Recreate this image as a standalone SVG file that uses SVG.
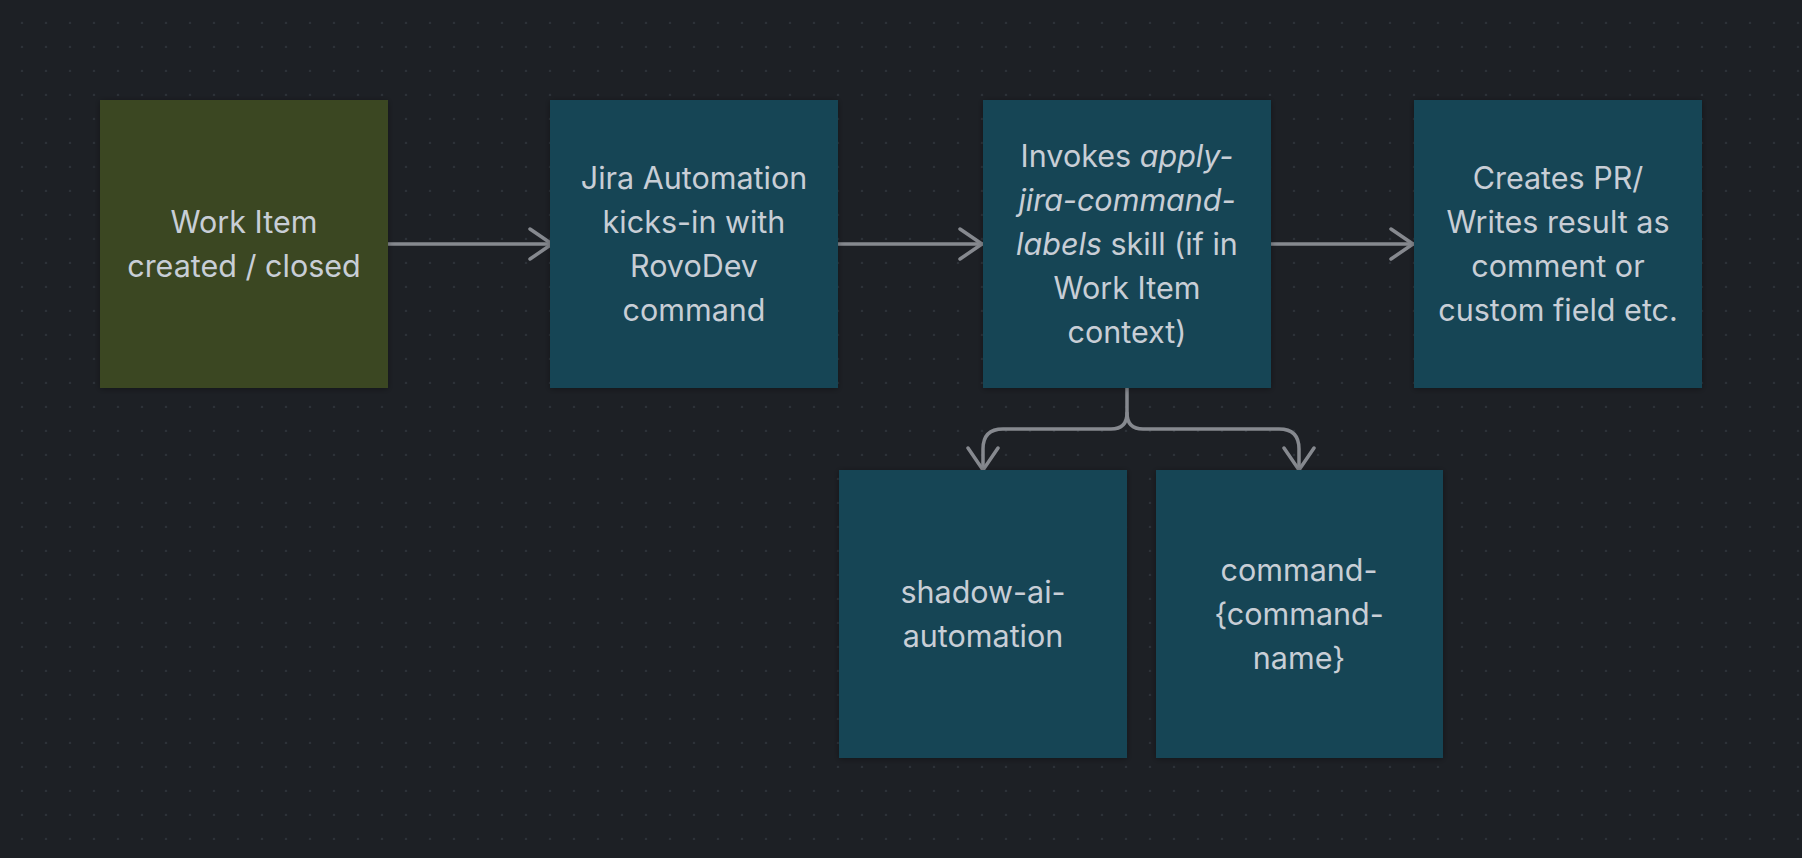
<svg xmlns="http://www.w3.org/2000/svg" width="1802" height="858" viewBox="0 0 1802 858">
<defs>
<pattern id="dots" x="0" y="0" width="24" height="24" patternUnits="userSpaceOnUse">
<circle cx="22" cy="23" r="1.2" fill="#2d3238"/>
</pattern>
<marker id="arr" viewBox="-26 -17 30 34" markerWidth="30" markerHeight="34" refX="0" refY="0" orient="auto" markerUnits="userSpaceOnUse">
<path d="M-22,-15 L0,0 L-22,15" fill="none" stroke="#86898f" stroke-width="3.5" stroke-linecap="round" stroke-linejoin="round"/>
</marker>
<filter id="sh" x="-10%" y="-10%" width="120%" height="120%">
<feDropShadow dx="0" dy="1" stdDeviation="3" flood-color="#000" flood-opacity="0.35"/>
</filter>
</defs>
<style>
.box{stroke:none;filter:url(#sh)}
.teal{fill:#164555}
.green{fill:#3a4721}
.t{font-family:Inter,"Noto Sans",sans-serif;font-size:30.5px;fill:#c8ced6;text-anchor:middle}
.i{font-style:italic}
.c{fill:none;stroke:#86898f;stroke-width:3.5;stroke-linecap:round}
</style>
<rect width="1802" height="858" fill="#1d2025"/>
<rect width="1802" height="858" fill="url(#dots)"/>

<g id="connectors">
<path class="c" d="M388,244 L552,244" marker-end="url(#arr)"/>
<path class="c" d="M838,244 L982,244" marker-end="url(#arr)"/>
<path class="c" d="M1271,244 L1413,244" marker-end="url(#arr)"/>
<path class="c" d="M1127,388 L1127,413 Q1127,429 1111,429 L1003,429 Q983,429 983,449 L983,470" marker-end="url(#arr)"/>
<path class="c" d="M1127,413 Q1127,429 1143,429 L1279,429 Q1299,429 1299,449 L1299,470" marker-end="url(#arr)"/>
</g>

<g id="node-work-item">
<rect class="box green" x="100" y="100" width="288" height="288"/>
<text class="t" x="244" y="233">Work Item</text>
<text class="t" x="244" y="277">created / closed</text>
</g>

<g id="node-jira-automation">
<rect class="box teal" x="550" y="100" width="288" height="288"/>
<text class="t" x="694" y="189">Jira Automation</text>
<text class="t" x="694" y="233">kicks-in with</text>
<text class="t" x="694" y="277">RovoDev</text>
<text class="t" x="694" y="321">command</text>
</g>

<g id="node-invokes-skill">
<rect class="box teal" x="983" y="100" width="288" height="288"/>
<text class="t" x="1127" y="167">Invokes <tspan class="i">apply-</tspan></text>
<text class="t i" x="1127" y="211">jira-command-</text>
<text class="t" x="1127" y="255"><tspan class="i">labels</tspan> skill (if in</text>
<text class="t" x="1127" y="299">Work Item</text>
<text class="t" x="1127" y="343">context)</text>
</g>

<g id="node-creates-pr">
<rect class="box teal" x="1414" y="100" width="288" height="288"/>
<text class="t" x="1558" y="189">Creates PR/</text>
<text class="t" x="1558" y="233">Writes result as</text>
<text class="t" x="1558" y="277">comment or</text>
<text class="t" x="1558" y="321">custom field etc.</text>
</g>

<g id="node-shadow-ai">
<rect class="box teal" x="839" y="470" width="288" height="288"/>
<text class="t" x="983" y="603">shadow-ai-</text>
<text class="t" x="983" y="647">automation</text>
</g>

<g id="node-command-name">
<rect class="box teal" x="1156" y="470" width="287" height="288"/>
<text class="t" x="1299" y="581">command-</text>
<text class="t" x="1299" y="625">{command-</text>
<text class="t" x="1299" y="669">name}</text>
</g>
</svg>
